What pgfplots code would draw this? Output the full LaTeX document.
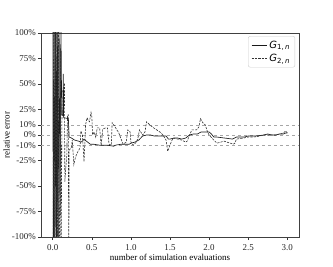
\documentclass[border=0pt]{standalone}
\usepackage{pgfplots}
\pgfplotsset{compat=1.18}
\usepackage{fontspec}
\setmainfont{Liberation Serif}
\newfontfamily\dejavu{DejaVu Sans}
\begin{document}
\fontsize{9}{10}\selectfont
\begin{tikzpicture}
\begin{axis}[
  scale only axis, width=258bp, height=204bp,
  at={(0,0)}, anchor=south west,
  xmin=-0.15, xmax=3.15, ymin=-100, ymax=100,
  xtick={0,0.5,1,1.5,2,2.5,3},
  xticklabels={0.0,0.5,1.0,1.5,2.0,2.5,3.0},
  ytick={-100,-75,-50,-25,-10,0,10,25,50,75,100},
  yticklabels={-100\%,-75\%,-50\%,-25\%,-10\%,0\%,10\%,25\%,50\%,75\%,100\%},
  tick align=outside, xtick pos=left, ytick pos=left,
  major tick length=3bp,
  tick style={black!80, line width=0.5pt},
  axis line style={black!75, line width=0.6pt},
  ticklabel style={font=\fontsize{9}{10}\selectfont, text=black!85},
  xticklabel style={yshift=-1bp},
  yticklabel style={xshift=1bp},
  xlabel={number of simulation evaluations},
  ylabel={relative error},
  xlabel style={font=\fontsize{9}{10}\selectfont, yshift=2bp},
  ylabel style={font=\fontsize{9}{10}\selectfont, yshift=-4bp},
  clip=true,
  legend style={at={(rel axis cs:0.985,0.985)}, anchor=north east,
    draw=black!20, rounded corners=2bp, font=\fontsize{10}{12}\selectfont,
    inner xsep=3bp, inner ysep=2.5bp, row sep=0.5bp},
  legend cell align=left,
  legend image code/.code={\draw[#1] (0cm,0cm) -- (0.55cm,0cm);},
]
\addplot[gray!70, dashed, line width=0.5pt, forget plot] coordinates {(-0.15,10) (3.15,10)};
\addplot[gray!70, dashed, line width=0.5pt, forget plot] coordinates {(-0.15,0) (3.15,0)};
\addplot[gray!70, dashed, line width=0.5pt, forget plot] coordinates {(-0.15,-10) (3.15,-10)};
% G1
\addplot[black!90, line width=0.65pt] coordinates {
(0,150) (0.008,-150) (0.018,150) (0.028,-150) (0.038,150) (0.048,-150)
(0.058,150) (0.068,-150) (0.08,140) (0.092,-80) (0.105,110) (0.115,20) (0.13,19) (0.135,60) (0.14,17)
(0.2,16) (0.21,-2) (0.24,-3) (0.28,-5) (0.33,-6) (0.36,-7) (0.38,-6) (0.40,-4)
(0.43,-6) (0.48,-9) (0.52,-9) (0.6,-10) (0.7,-10) (0.78,-11) (0.8,-10) (0.88,-9)
(0.9,-9) (0.98,-9) (1.0,-8) (1.05,-7) (1.1,-5) (1.15,-1) (1.2,0) (1.25,0) (1.3,-1)
(1.4,-1) (1.45,-1) (1.48,-4) (1.5,-4) (1.55,-3) (1.6,-3) (1.65,-4) (1.7,-3) (1.75,0)
(1.8,1) (1.85,1) (1.9,3) (2.0,3) (2.03,1) (2.06,-2) (2.1,-2) (2.2,-3) (2.3,-4)
(2.35,-2) (2.45,-2) (2.5,-1) (2.6,-1) (2.7,0) (2.75,1) (2.8,0) (2.85,0) (2.9,1)
(2.95,1) (2.98,2) (3.0,2)
};
\addlegendentry{{\dejavu\itshape G\textsubscript{\upshape 1,\,\itshape n}}}
% G2
\addplot[black!80, line width=0.6pt, dash pattern=on 2.2pt off 1.2pt] coordinates {
(0.003,-150) (0.013,150) (0.023,-150) (0.033,150) (0.043,-150)
(0.053,150) (0.063,-150) (0.073,150) (0.082,-150)
(0.09,-130) (0.1,85) (0.105,-150) (0.12,40) (0.15,51) (0.155,-46) (0.17,-30) (0.18,-20)
(0.19,20) (0.2,20) (0.205,-150) (0.21,-15) (0.24,-12) (0.25,-5) (0.27,-29) (0.29,-22)
(0.31,-18) (0.34,-14) (0.35,-12) (0.36,4) (0.38,0) (0.4,-26) (0.41,-10) (0.42,10)
(0.44,17) (0.45,15) (0.47,13) (0.49,22) (0.5,18) (0.51,0) (0.53,3) (0.55,-2) (0.57,7)
(0.6,7) (0.62,-10) (0.64,6) (0.68,7) (0.7,7) (0.72,-9) (0.75,-10) (0.76,12) (0.79,9)
(0.82,5) (0.84,3) (0.86,-1) (0.9,-9) (0.94,-7) (0.96,5) (0.99,3) (1.0,-7) (1.03,-10)
(1.07,-7) (1.09,-3) (1.11,5) (1.15,0) (1.18,3) (1.2,13) (1.24,10) (1.29,7) (1.33,5)
(1.37,3) (1.41,0) (1.45,-5) (1.47,-16) (1.5,-10) (1.52,-6) (1.54,-3) (1.6,-4) (1.65,-5)
(1.7,-7) (1.72,-6) (1.75,0) (1.78,5) (1.84,5) (1.87,8) (1.89,16) (1.92,12) (1.95,10)
(1.98,3) (2.0,0) (2.06,-5) (2.1,-8) (2.15,-7) (2.19,-6) (2.23,-7) (2.27,-8) (2.31,-9)
(2.33,-8) (2.35,-4) (2.44,-3) (2.5,-2) (2.57,-2) (2.65,-1) (2.7,0) (2.8,0) (2.85,0)
(2.91,1) (2.95,2) (2.98,4) (3.0,2)
};
\addlegendentry{{\dejavu\itshape G\textsubscript{\upshape 2,\,\itshape n}}}
\node[anchor=north east, inner sep=0pt, font=\fontsize{9}{10}\selectfont] at (rel axis cs:1,0) [yshift=-16bp] {×10\textsuperscript{5}};
\end{axis}
\pgfresetboundingbox
\useasboundingbox (-41bp,-30bp) rectangle (292bp,237bp);
\end{tikzpicture}
\end{document}
